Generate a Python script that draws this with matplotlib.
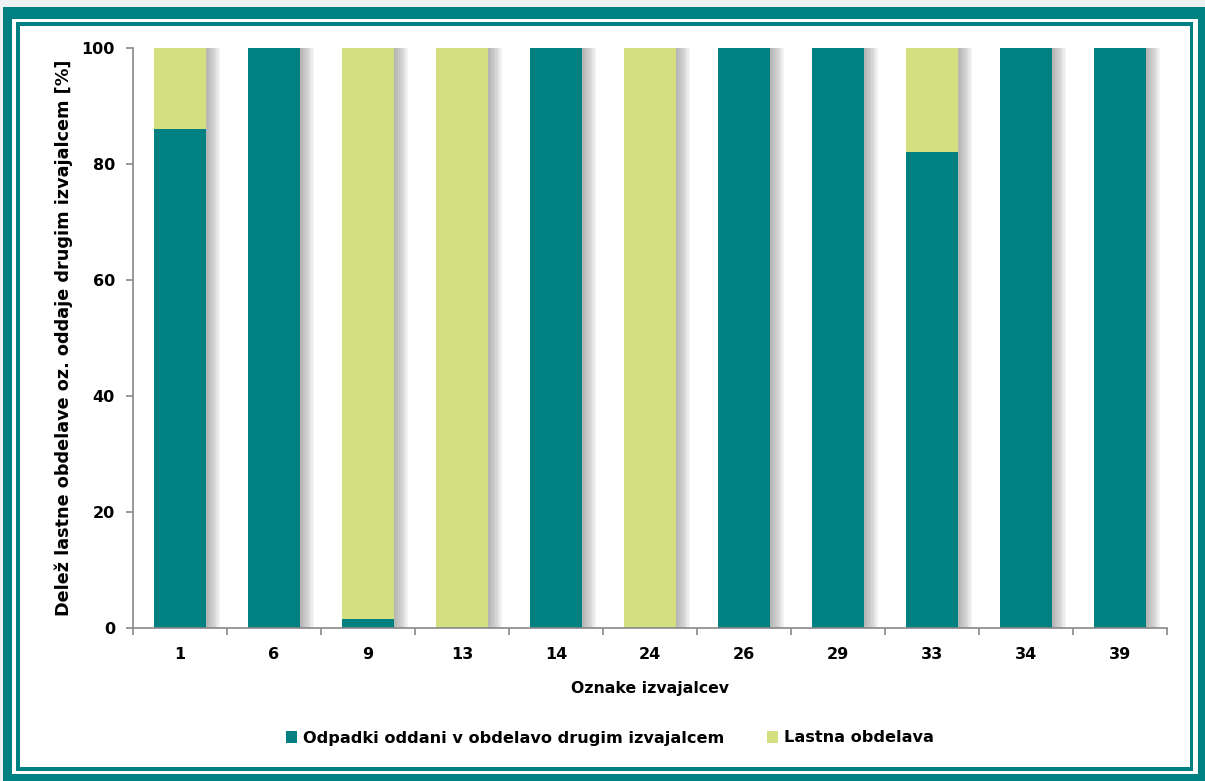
import matplotlib
matplotlib.use("Agg")
import matplotlib.pyplot as plt
import matplotlib.patheffects as pe
from matplotlib.patches import Rectangle, Patch
import numpy as np

categories = ["1", "6", "9", "13", "14", "24", "26", "29", "33", "34", "39"]
oddani = [86, 100, 1.5, 0, 100, 0, 100, 100, 82, 100, 100]
lastna = [14, 0, 98.5, 100, 0, 100, 0, 0, 18, 0, 0]
series_names = ["Odpadki oddani v obdelavo drugim izvajalcem", "Lastna obdelava"]
ylabel = "Delež lastne obdelave oz. oddaje drugim izvajalcem [%]"
xlabel = "Oznake izvajalcev"

TEAL = "#008080"
GREEN = "#d4df80"

W, H = 1205, 781
fig = plt.figure(figsize=(W / 100, H / 100), dpi=100, facecolor="#eef1f1")

def rect_px(x0, y0, x1, y1, **kw):
    fig.patches.append(Rectangle((x0 / W, 1 - y1 / H), (x1 - x0) / W, (y1 - y0) / H,
                                 transform=fig.transFigure, figure=fig, zorder=-5, **kw))

# frame
rect_px(3, 7, 1205, 781, facecolor=TEAL, edgecolor="none")
rect_px(12, 19, 1198, 774, facecolor="white", edgecolor="none")
rect_px(16, 22, 1193, 771, facecolor=TEAL, edgecolor="none")
rect_px(20, 26, 1190, 767, facecolor="white", edgecolor="none")

ax = fig.add_axes([133 / W, 1 - 628 / H, (1167 - 133) / W, (628 - 48) / H])
ax.set_facecolor("none")
ax.set_zorder(1)

x = np.arange(len(categories))
shadow = [pe.SimplePatchShadow(offset=(k, 0), shadow_rgbFace="#808080", alpha=0.075) for k in range(1, 11)] + [pe.Normal()]
b1 = ax.bar(x, oddani, width=0.56, color=TEAL, zorder=2)
b2 = ax.bar(x, lastna, width=0.56, bottom=oddani, color=GREEN, zorder=2)
for bars in (b1, b2):
    for r in bars:
        if r.get_height() > 0:
            r.set_path_effects(shadow)

ax.set_xlim(-0.5, len(categories) - 0.5)
ax.set_ylim(0, 100)
ax.set_yticks([0, 20, 40, 60, 80, 100])
ax.set_xticks(x)
ax.set_xticklabels(categories)
ax.set_xticks(np.arange(-0.5, len(categories)), minor=True)
ax.tick_params(axis="x", which="major", length=0, pad=14)
ax.tick_params(axis="x", which="minor", length=5, color="#888888", width=1.2)
ax.tick_params(axis="y", length=5, color="#888888", width=1.2, pad=8)
for lab in ax.get_xticklabels() + ax.get_yticklabels():
    lab.set_fontweight("bold")
    lab.set_fontsize(11.5)
for s in ["top", "right"]:
    ax.spines[s].set_visible(False)
for s in ["left", "bottom"]:
    ax.spines[s].set_color("#888888")
    ax.spines[s].set_linewidth(1.2)

ax.set_xlabel(xlabel, fontsize=11.3, fontweight="bold", labelpad=13)
ax.set_ylabel(ylabel, fontsize=12.7, fontweight="bold", labelpad=6)

handles = [Patch(facecolor=TEAL), Patch(facecolor=GREEN)]
fig.legend(handles=handles, labels=series_names, loc="center",
           bbox_to_anchor=(610 / W, 1 - 738 / H), ncol=2, frameon=False,
           handlelength=0.7, handleheight=0.7, handletextpad=0.4, columnspacing=2.6,
           prop={"weight": "bold", "size": 11.6})

fig.savefig("out.png", dpi=100, facecolor=fig.get_facecolor())
